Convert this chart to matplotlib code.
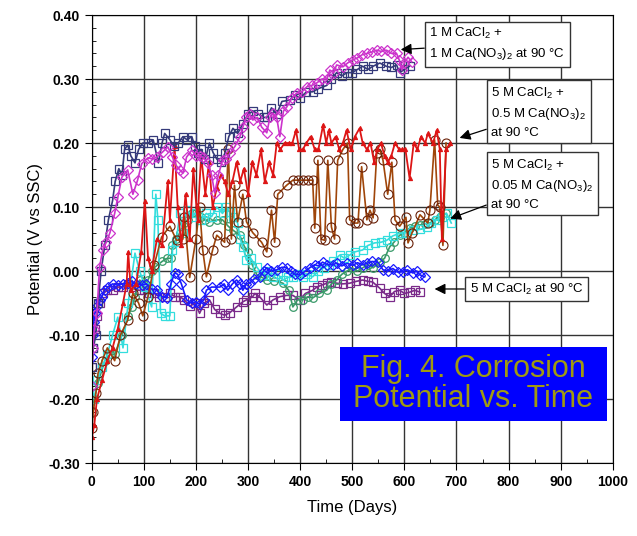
import matplotlib
matplotlib.use("Agg")
import matplotlib.pyplot as plt
from matplotlib.patches import Rectangle
from matplotlib.ticker import MultipleLocator

plt.rcParams['font.family'] = ['Liberation Sans', 'DejaVu Sans']
plt.rcParams['mathtext.fontset'] = 'custom'
plt.rcParams['mathtext.rm'] = 'Liberation Sans'
plt.rcParams['mathtext.it'] = 'Liberation Sans'

# ---- data (days, V vs SSC) ----
# 1 M CaCl2 + 1 M Ca(NO3)2, navy squares
navy_d = [0, 3, 8, 12, 18, 25, 32, 40, 45, 52, 58, 63, 69, 75, 83, 90, 98, 108, 118, 128,
          135, 140, 150, 158, 166, 175, 183, 192, 198, 203, 210, 218, 226, 233, 240, 248, 256,
          263, 271, 280, 290, 300, 310, 320, 330, 336, 345, 355, 365, 380, 390, 400, 412, 424,
          435, 451, 460, 470, 480, 490, 500, 510, 520, 530, 540, 553, 565, 575, 585, 591, 600, 610]
navy_v = [-0.15, -0.12, -0.10, -0.05, 0.0, 0.04, 0.08, 0.11, 0.14, 0.16, 0.15, 0.19, 0.197, 0.18,
          0.169, 0.19, 0.20, 0.20, 0.205, 0.169, 0.20, 0.215, 0.205, 0.195, 0.20, 0.21, 0.205,
          0.21, 0.195, 0.185, 0.19, 0.175, 0.20, 0.185, 0.175, 0.17, 0.185, 0.21, 0.223, 0.215,
          0.23, 0.245, 0.25, 0.245, 0.24, 0.24, 0.255, 0.245, 0.265, 0.267, 0.275, 0.27, 0.28,
          0.28, 0.285, 0.29, 0.30, 0.31, 0.305, 0.31, 0.31, 0.315, 0.32, 0.315, 0.32, 0.325,
          0.32, 0.318, 0.322, 0.31, 0.315, 0.32]

# 1 M CaCl2 + 1 M Ca(NO3)2, magenta diamonds
mag_d = [0, 2, 5, 10, 15, 21, 28, 35, 44, 50, 58, 69, 79, 88, 96, 108, 116, 125, 136, 146, 155,
         162, 169, 175, 182, 192, 200, 207, 213, 223, 230, 236, 243, 251, 258, 265, 275, 284, 290,
         297, 303, 309, 318, 326, 336, 342, 347, 355, 361, 368, 374, 384, 393, 403, 413, 422, 432,
         442, 451, 457, 464, 470, 482, 491, 501, 510, 519, 528, 537, 547, 556, 566, 575, 585, 590,
         595, 600, 607, 614]
mag_v = [-0.18, -0.12, -0.09, -0.066, 0.006, 0.033, 0.045, 0.06, 0.09, 0.115, 0.147, 0.158, 0.12,
         0.142, 0.168, 0.177, 0.175, 0.178, 0.186, 0.194, 0.178, 0.165, 0.158, 0.153, 0.178, 0.189,
         0.18, 0.18, 0.178, 0.169, 0.15, 0.122, 0.15, 0.173, 0.175, 0.184, 0.195, 0.209, 0.225, 0.24,
         0.245, 0.236, 0.24, 0.225, 0.216, 0.24, 0.247, 0.24, 0.21, 0.25, 0.256, 0.27, 0.278, 0.28,
         0.288, 0.29, 0.294, 0.30, 0.30, 0.314, 0.31, 0.322, 0.319, 0.325, 0.33, 0.333, 0.338, 0.34,
         0.342, 0.345, 0.343, 0.345, 0.34, 0.34, 0.33, 0.314, 0.325, 0.334, 0.327]

# 5 M CaCl2 + 0.5 M Ca(NO3)2, red triangles
red_d = [0, 5, 10, 20, 30, 40, 50, 60, 67, 70, 75, 85, 95, 102, 108, 115, 125, 135, 146, 150, 159,
         165, 172, 180, 188, 195, 203, 210, 218, 225, 232, 240, 248, 255, 262, 270, 278, 285, 292,
         300, 308, 316, 325, 332, 340, 348, 355, 362, 370, 378, 385, 392, 398, 405, 412, 420, 428,
         435, 444, 450, 455, 460, 468, 475, 482, 489, 497, 505, 514, 520, 528, 535, 542, 548, 555,
         562, 568, 575, 582, 590, 595, 602, 610, 618, 625, 632, 640, 645, 655, 662, 668, 672, 680, 688]
red_v = [-0.26, -0.24, -0.20, -0.17, -0.14, -0.12, -0.09, -0.05, -0.02, 0.03, -0.03, -0.02, 0.03,
         0.11, 0.02, 0.0, 0.05, 0.04, 0.14, 0.08, 0.195, 0.10, 0.04, 0.12, 0.05, 0.16, 0.08, 0.18,
         0.12, 0.17, 0.10, 0.13, 0.15, 0.14, 0.12, 0.14, 0.17, 0.14, 0.16, 0.12, 0.17, 0.15, 0.19,
         0.14, 0.17, 0.15, 0.20, 0.19, 0.20, 0.20, 0.20, 0.22, 0.19, 0.19, 0.20, 0.21, 0.19, 0.19,
         0.228, 0.20, 0.22, 0.20, 0.21, 0.19, 0.20, 0.22, 0.19, 0.21, 0.223, 0.20, 0.19, 0.20, 0.17,
         0.19, 0.20, 0.18, 0.17, 0.18, 0.20, 0.19, 0.19, 0.19, 0.145, 0.20, 0.19, 0.21, 0.20, 0.215,
         0.20, 0.22, 0.19, 0.05, 0.19, 0.20]

# 5 M CaCl2 + 0.5 M Ca(NO3)2, brown circles
brn_d = [0, 3, 8, 12, 20, 30, 44, 55, 69, 79, 90, 98, 108, 120, 134, 150, 163, 175, 178, 188, 200,
         207, 213, 220, 232, 240, 255, 262, 268, 274, 280, 290, 297, 309, 326, 336, 345, 351, 357,
         374, 386, 395, 405, 415, 424, 428, 434, 440, 447, 453, 460, 466, 472, 482, 491, 495, 505,
         511, 518, 528, 534, 540, 547, 553, 559, 568, 576, 582, 591, 603, 607, 615, 630, 645, 649,
         658, 664, 668, 674, 680]
brn_v = [-0.245, -0.22, -0.19, -0.16, -0.14, -0.12, -0.14, -0.10, -0.077, -0.035, -0.05, -0.07,
         -0.04, 0.01, 0.053, 0.07, 0.048, 0.05, 0.085, -0.01, 0.05, 0.10, 0.033, -0.009, 0.033, 0.056,
         0.045, 0.19, 0.05, 0.134, 0.077, 0.12, 0.077, 0.06, 0.045, 0.03, 0.095, 0.045, 0.12, 0.134,
         0.142, 0.142, 0.142, 0.142, 0.142, 0.067, 0.173, 0.05, 0.048, 0.173, 0.069, 0.05, 0.173,
         0.19, 0.20, 0.08, 0.075, 0.075, 0.163, 0.08, 0.095, 0.083, 0.184, 0.19, 0.173, 0.12, 0.17,
         0.08, 0.07, 0.084, 0.044, 0.06, 0.088, 0.075, 0.095, 0.205, 0.103, 0.10, 0.04, 0.20]

# 5 M CaCl2 + 0.05 M Ca(NO3)2, cyan squares
cyn_d = [0, 5, 10, 20, 30, 40, 50, 60, 70, 83, 92, 102, 115, 123, 127, 132, 140, 150, 155, 162,
         169, 176, 182, 192, 201, 210, 220, 230, 240, 251, 258, 265, 272, 280, 285, 290, 297, 305,
         317, 328, 337, 347, 357, 367, 376, 386, 395, 405, 414, 424, 435, 445, 455, 463, 476, 485,
         495, 505, 520, 530, 543, 555, 566, 578, 591, 603, 616, 630, 643, 652, 662, 672, 681, 690]
cyn_v = [-0.18, -0.20, -0.17, -0.15, -0.13, -0.10, -0.072, -0.12, -0.05, 0.028, 0.0, -0.025, -0.056,
         0.12, 0.08, -0.066, -0.07, -0.07, 0.033, 0.045, 0.09, 0.06, 0.095, 0.085, 0.09, 0.08, 0.09,
         0.085, 0.10, 0.09, 0.10, 0.092, 0.085, 0.075, 0.05, 0.038, 0.017, 0.02, 0.006, -0.006, 0.0,
         -0.009, -0.005, -0.014, -0.01, -0.009, -0.005, -0.01, -0.005, -0.009, 0.0, 0.005, 0.01, 0.015,
         0.025, 0.02, 0.025, 0.03, 0.033, 0.04, 0.044, 0.045, 0.048, 0.055, 0.059, 0.06, 0.064, 0.065,
         0.069, 0.075, 0.08, 0.085, 0.09, 0.075]

# 5 M CaCl2 + 0.05 M Ca(NO3)2, green circles
grn_d = [0, 5, 12, 25, 35, 44, 58, 70, 77, 83, 92, 100, 108, 115, 121, 135, 145, 153, 155, 162, 169,
         178, 185, 192, 200, 210, 217, 226, 240, 251, 262, 271, 284, 292, 299, 308, 317, 327, 336,
         350, 367, 378, 386, 395, 405, 415, 424, 437, 451, 460, 470, 480, 490, 500, 510, 520, 530,
         540, 553, 562, 572, 580, 591, 600, 610, 620, 630, 640, 649, 658, 668, 680]
grn_v = [-0.22, -0.20, -0.175, -0.14, -0.13, -0.13, -0.10, -0.07, -0.056, -0.04, -0.014, -0.02,
         -0.014, 0.0, 0.006, 0.015, 0.02, 0.02, 0.04, 0.05, 0.06, 0.075, 0.08, 0.09, 0.09, 0.085, 0.08,
         0.077, 0.08, 0.08, 0.07, 0.064, 0.056, 0.04, 0.03, 0.01, -0.006, -0.01, -0.014, -0.015, -0.019,
         -0.03, -0.056, -0.045, -0.045, -0.04, -0.042, -0.035, -0.03, -0.02, -0.014, -0.005, 0.0, 0.005,
         0.0, 0.005, 0.01, 0.005, 0.014, 0.02, 0.038, 0.045, 0.056, 0.06, 0.067, 0.07, 0.072, 0.074,
         0.075, 0.08, 0.085, 0.09]

# 5 M CaCl2, blue diamonds
blu_d = [0, 2, 4, 6, 10, 15, 19, 25, 31, 40, 50, 60, 70, 77, 85, 96, 105, 115, 125, 135, 144, 152,
         159, 165, 172, 182, 192, 200, 207, 215, 220, 230, 246, 254, 261, 270, 278, 285, 290, 297,
         303, 312, 322, 330, 336, 345, 355, 365, 374, 382, 390, 400, 410, 418, 428, 435, 443, 452,
         463, 470, 480, 490, 501, 510, 520, 528, 538, 549, 559, 568, 578, 588, 597, 606, 616, 624,
         630, 639]
blu_v = [-0.135, -0.10, -0.08, -0.066, -0.055, -0.045, -0.04, -0.03, -0.025, -0.02, -0.022, -0.02,
         -0.018, -0.016, -0.02, -0.022, -0.02, -0.028, -0.03, -0.04, -0.042, -0.02, -0.003, -0.005,
         -0.02, -0.045, -0.05, -0.048, -0.052, -0.045, -0.03, -0.025, -0.025, -0.02, -0.03, -0.02,
         -0.014, -0.02, -0.03, -0.02, -0.019, -0.012, -0.009, 0.0, 0.005, 0.0, 0.002, 0.006, 0.005,
         0.0, -0.005, -0.006, 0.0, 0.005, 0.01, 0.008, 0.014, 0.01, 0.01, 0.0125, 0.008, 0.012, 0.009,
         0.013, 0.01, 0.012, 0.015, 0.014, 0.002, 0.0, 0.004, -0.002, -0.001, 0.002, -0.003, 0.0,
         -0.006, -0.009]

# 5 M CaCl2, purple squares
pur_d = [0, 3, 6, 10, 15, 22, 30, 40, 50, 60, 70, 80, 90, 100, 110, 120, 130, 140, 150, 160, 169,
         178, 188, 198, 207, 216, 226, 236, 246, 255, 265, 278, 290, 297, 309, 313, 322, 336, 348,
         361, 374, 386, 399, 410, 424, 432, 441, 451, 460, 470, 482, 495, 508, 520, 530, 539, 553,
         562, 572, 581, 591, 600, 610, 620, 630]
pur_v = [-0.15, -0.12, -0.09, -0.07, -0.05, -0.035, -0.03, -0.03, -0.025, -0.025, -0.02, -0.025,
         -0.03, -0.03, -0.035, -0.035, -0.04, -0.04, -0.035, -0.04, -0.04, -0.045, -0.055, -0.05,
         -0.066, -0.05, -0.045, -0.06, -0.066, -0.069, -0.065, -0.056, -0.048, -0.045, -0.04, -0.035,
         -0.04, -0.053, -0.045, -0.04, -0.038, -0.038, -0.045, -0.035, -0.03, -0.025, -0.022, -0.019,
         -0.017, -0.019, -0.02, -0.019, -0.016, -0.014, -0.016, -0.017, -0.027, -0.035, -0.04, -0.032,
         -0.03, -0.035, -0.033, -0.03, -0.033]

fig, ax = plt.subplots(figsize=(6.37, 5.36), dpi=100)
fig.subplots_adjust(left=0.144, right=0.962, top=0.972, bottom=0.136)

ms = 5.5
# lower ones first so the 1 M pair sits on top like the original
ax.plot(pur_d, pur_v, color='#7a2a8a', marker='s', ms=ms, mfc='none', lw=1.2, mew=0.9)
ax.plot(grn_d, grn_v, color='#3a9a6a', marker='o', ms=ms, mfc='none', lw=1.2, mew=0.9)
ax.plot(cyn_d, cyn_v, color='#33dddd', marker='s', ms=ms, mfc='none', lw=1.2, mew=0.9)
ax.plot(blu_d, blu_v, color='#1a1aff', marker='D', ms=ms - 0.5, mfc='none', lw=1.2, mew=0.9)
ax.plot(brn_d, brn_v, color='#a0460a', marker='o', mec='#6a2008', ms=ms + 1, mfc='none', lw=1.2, mew=0.8)
ax.plot(red_d, red_v, color='#dd1515', marker='^', ms=3, lw=1.3, mew=0.8)
ax.plot(navy_d, navy_v, color='#353a7a', marker='s', ms=ms + 0.5, mfc='none', lw=1.2, mew=0.9)
ax.plot(mag_d, mag_v, color='#cc33cc', marker='D', ms=ms - 0.5, mfc='none', lw=1.2, mew=0.9)

ax.set_xlim(0, 1000)
ax.set_ylim(-0.30, 0.40)
ax.xaxis.set_major_locator(MultipleLocator(100))
ax.xaxis.set_minor_locator(MultipleLocator(50))
ax.yaxis.set_major_locator(MultipleLocator(0.1))
ax.yaxis.set_minor_locator(MultipleLocator(0.02))
ax.yaxis.set_major_formatter(matplotlib.ticker.FormatStrFormatter('%.2f'))
ax.tick_params(which='major', direction='out', length=5, labelsize=10)
ax.tick_params(which='minor', direction='in', length=3)
for lbl in ax.get_xticklabels() + ax.get_yticklabels():
    lbl.set_fontweight('bold')
ax.grid(True, which='major', color='#333333', lw=1.0)
ax.set_axisbelow(True)

ax.set_xlabel('Time (Days)', fontsize=12, labelpad=8)
ax.set_ylabel('Potential (V vs SSC)', fontsize=12, labelpad=4)

box = dict(boxstyle='square,pad=0.35', fc='white', ec='#333333', lw=1.0)
arrow = dict(arrowstyle='-|>', color='black', lw=0.9, mutation_scale=16, shrinkA=0, shrinkB=0)
fs = 9.5
ax.annotate('1 M CaCl$_2$ +\n1 M Ca(NO$_3$)$_2$ at 90 °C', xy=(593, 0.346), xytext=(648, 0.355),
            fontsize=fs, va='center', ha='left', bbox=box, arrowprops=arrow, linespacing=1.5)
ax.annotate('5 M CaCl$_2$ +\n0.5 M Ca(NO$_3$)$_2$\nat 90 °C', xy=(706, 0.208), xytext=(767, 0.248),
            fontsize=fs, va='center', ha='left', bbox=box, arrowprops=arrow, linespacing=1.5)
ax.annotate('5 M CaCl$_2$ +\n0.05 M Ca(NO$_3$)$_2$\nat 90 °C', xy=(688, 0.082), xytext=(767, 0.136),
            fontsize=fs, va='center', ha='left', bbox=box, arrowprops=arrow, linespacing=1.5)
ax.annotate('5 M CaCl$_2$ at 90 °C', xy=(658, -0.028), xytext=(725, -0.028),
            fontsize=fs, va='center', ha='left', bbox=box, arrowprops=arrow)

ax.add_patch(Rectangle((0.476, 0.094), 0.512, 0.165, transform=ax.transAxes,
                       facecolor='#0000ff', edgecolor='none', zorder=5))
ax.text(0.732, 0.176, 'Fig. 4. Corrosion\nPotential vs. Time', transform=ax.transAxes,
        ha='center', va='center', fontsize=22, color='#a09a10', zorder=6, linespacing=1.0)

fig.savefig('out.png', dpi=100)
